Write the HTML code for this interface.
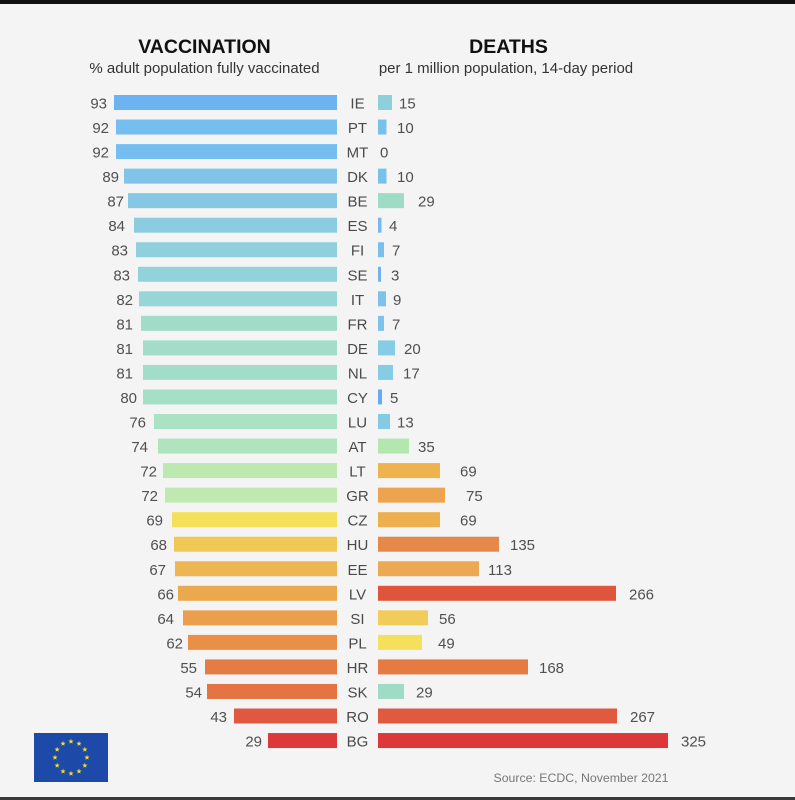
<!DOCTYPE html>
<html><head><meta charset="utf-8">
<style>
html,body{margin:0;padding:0;background:#f4f4f4;}
svg{display:block;}
text{font-family:"Liberation Sans",Arial,sans-serif;}
.v{font-size:15px;fill:#505050;}
.c{font-size:15px;fill:#4a4a4a;text-anchor:middle;}
</style></head><body>
<svg width="795" height="800" viewBox="0 0 795 800" xmlns="http://www.w3.org/2000/svg">
<rect x="0" y="0" width="795" height="800" fill="#f4f4f4"/>
<rect x="0" y="0" width="795" height="4" fill="#111"/>
<rect x="0" y="797" width="795" height="3" fill="#3a3a3a"/>
<text x="204.5" y="53" text-anchor="middle" style="font-size:19.5px;font-weight:bold;fill:#111">VACCINATION</text>
<text x="204.5" y="73" text-anchor="middle" style="font-size:15px;fill:#333">% adult population fully vaccinated</text>
<text x="508.5" y="53" text-anchor="middle" style="font-size:19.5px;font-weight:bold;fill:#111">DEATHS</text>
<text x="506" y="73" text-anchor="middle" style="font-size:15px;fill:#333">per 1 million population, 14-day period</text>
<g id="rows"></g>
<text x="581" y="782" text-anchor="middle" style="font-size:12.3px;fill:#777">Source: ECDC, November 2021</text>
<rect x="34" y="733" width="74" height="49" fill="#1d4aa8"/>
<g id="stars" fill="#f5e020"></g>
</svg>
<script>
var rows=[
["IE",93,114,107,"#6db3f2",15,392,399,"#8dd0dc"],
["PT",92,116,109,"#76bdf0",10,386.5,397,"#78c2ea"],
["MT",92,116,109,"#76bdf0",0,378,380,"#78c2ea"],
["DK",89,124,119,"#80c4ea",10,386.5,397,"#78c2ea"],
["BE",87,128,124,"#86c8e4",29,404,418,"#9fdcc6"],
["ES",84,134,125,"#8ccce0",4,381.5,389,"#7ab8e8"],
["FI",83,136,128,"#90d0dc",7,384,392,"#78c0ea"],
["SE",83,138,130,"#92d2da",3,381,391,"#74b2ec"],
["IT",82,139,133,"#96d6d6",9,386,393,"#7cc2ea"],
["FR",81,141,133,"#a0dcc8",7,384,392,"#7cc2ea"],
["DE",81,143,133,"#a2ddca",20,395,404,"#86cce4"],
["NL",81,143,133,"#a2ddca",17,393,403,"#86cce4"],
["CY",80,143,137,"#a6dfc8",5,382,390,"#6aa8f0"],
["LU",76,154,146,"#aae2c4",13,390,397,"#84cae4"],
["AT",74,158,148,"#b0e4be",35,409,418,"#b4e6b0"],
["LT",72,163,157,"#bce8b2",69,440,460,"#eeb24e"],
["GR",72,165,158,"#bfe9b0",75,445,466,"#eca44e"],
["CZ",69,172,163,"#f5e05a",69,440,460,"#eeb04e"],
["HU",68,174,167,"#f1c855",135,499,510,"#e6884a"],
["EE",67,175,166,"#eeb553",113,479,488,"#eda853"],
["LV",66,178,174,"#eba94f",266,616,629,"#de553c"],
["SI",64,183,174,"#eb9f4c",56,428,439,"#f2cc58"],
["PL",62,188,183,"#e98f47",49,422,438,"#f5e05c"],
["HR",55,205,197,"#e67c45",168,528,539,"#e57a42"],
["SK",54,207,202,"#e47444",29,404,416,"#9fdcc6"],
["RO",43,234,227,"#e05840",267,617,630,"#df5a3e"],
["BG",29,268,262,"#dc3a3a",325,668,681,"#dc383a"]
];
var NS="http://www.w3.org/2000/svg";
var g=document.getElementById("rows");
function el(t,a,txt){var e=document.createElementNS(NS,t);for(var k in a)e.setAttribute(k,a[k]);if(txt!=null)e.textContent=txt;g.appendChild(e);return e;}
for(var i=0;i<rows.length;i++){
 var r=rows[i];var cy=102.5+i*24.54;
 el("rect",{x:r[2],y:(cy-7.5).toFixed(2),width:337-r[2],height:15,fill:r[4]});
 el("text",{x:r[3],y:(cy+6).toFixed(2),"class":"v","text-anchor":"end"},String(r[1]));
 el("text",{x:357.5,y:(cy+6).toFixed(2),"class":"c"},r[0]);
 if(r[5]>0) el("rect",{x:378,y:(cy-7.5).toFixed(2),width:(r[6]-378),height:15,fill:r[8]});
 el("text",{x:r[7],y:(cy+6).toFixed(2),"class":"v"},String(r[5]));
}
var sg=document.getElementById("stars");
function star(cx,cy,R){var p=[];for(var k=0;k<10;k++){var a=-Math.PI/2+k*Math.PI/5;var rr=k%2?R*0.4:R;p.push((cx+rr*Math.cos(a)).toFixed(2)+","+(cy+rr*Math.sin(a)).toFixed(2));}
 var e=document.createElementNS(NS,"polygon");e.setAttribute("points",p.join(" "));sg.appendChild(e);}
for(var k=0;k<12;k++){var a=k*Math.PI/6;star(71+16*Math.cos(a),757.5+16*Math.sin(a),2.8);}
</script>
</body></html>
